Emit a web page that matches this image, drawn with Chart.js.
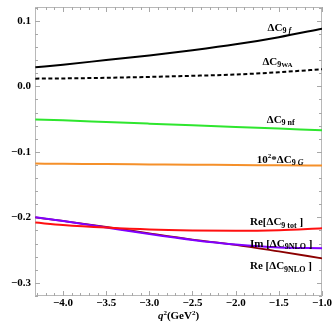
<!DOCTYPE html>
<html><head><meta charset="utf-8">
<script src="https://cdn.jsdelivr.net/npm/chart.js@4"></script>
<style>html,body{margin:0;padding:0;background:#fff;}#wrap{width:334px;height:334px;}</style>
</head><body><div id="wrap"><canvas id="c" width="334" height="334"></canvas></div>
<script>
// q^2 sample points (GeV^2)
const q2 = [-4.32, -4.0, -3.5, -3.0, -2.5, -2.0, -1.5, -1.0];
// series values
const dC9f     = [0.029, 0.033, 0.040, 0.047, 0.055, 0.064, 0.075, 0.088];
const dC9WA    = [0.0117, 0.012, 0.013, 0.0143, 0.016, 0.018, 0.0215, 0.026];
const dC9nf    = [-0.0505, -0.052, -0.0545, -0.057, -0.0595, -0.062, -0.0645, -0.067];
const dC9G100  = [-0.118, -0.1183, -0.1187, -0.1192, -0.1197, -0.1201, -0.1206, -0.121];
const reTot    = [-0.208, -0.2115, -0.2155, -0.2185, -0.2200, -0.2205, -0.2195, -0.2165];
const imNLO    = [-0.200, -0.2055, -0.2155, -0.2255, -0.2345, -0.2415, -0.2460, -0.2470];
const reNLO    = [-0.200, -0.2055, -0.2145, -0.2245, -0.2340, -0.2420, -0.2520, -0.2625];
const seriesNames = ["ΔC9 f", "ΔC9WA", "ΔC9 nf", "10²*ΔC9 G", "Re[ΔC9 tot ]", "Im [ΔC9NLO ]", "Re [ΔC9NLO ]"];
// tick labels
const xTicks = [-4.0, -3.5, -3.0, -2.5, -2.0, -1.5, -1.0];
const xTickLabels = ["−4.0", "−3.5", "−3.0", "−2.5", "−2.0", "−1.5", "−1.0"];
const yTicks = [0.1, 0.0, -0.1, -0.2, -0.3];
const yTickLabels = ["0.1", "0.0", "−0.1", "−0.2", "−0.3"];
const xTitle = ["q", "2", "(GeV", "2", ")"];

const FONT = '"Liberation Serif", "Times New Roman", serif';

function ds(name, arr, color, extra) {
  return Object.assign({
    label: name,
    data: q2.map((x, i) => ({x: x, y: arr[i]})),
    borderColor: color,
    borderWidth: 2,
    pointRadius: 0,
    fill: false,
    cubicInterpolationMode: 'monotone'
  }, extra || {});
}

function drawRich(ctx, x, y, parts) {
  let cx = x;
  for (const p of parts) {
    const s = p.s || 11;
    ctx.font = (p.i ? 'italic ' : '') + 'bold ' + s + 'px ' + FONT;
    ctx.fillText(p.t, cx, y + (p.dy || 0));
    cx += ctx.measureText(p.t).width;
  }
  return cx - x;
}

function sub(t, italic) { return {t: t, s: 8, dy: 2.5, i: !!italic}; }
function sup(t) { return {t: t, s: 7, dy: -4.5}; }
function main(t, italic) { return {t: t, s: 11, i: !!italic}; }

const frameTicks = {
  id: 'frameTicks',
  beforeDatasetsDraw(chart) {
    const ctx = chart.ctx, a = chart.chartArea;
    const xs = chart.scales.x, ys = chart.scales.y;
    ctx.save();
    ctx.strokeStyle = '#b8b8b8';
    ctx.lineWidth = 1;
    ctx.strokeRect(a.left + 0.5, a.top + 0.5, a.right - a.left - 1, a.bottom - a.top - 1);
    ctx.strokeStyle = '#a8a8a8';
    ctx.beginPath();
    for (let k = -43; k <= -10; k++) {
      const v = k / 10;
      const px = Math.round(xs.getPixelForValue(v)) + 0.5;
      const len = (k % 5 === 0) ? 5 : 3;
      ctx.moveTo(px, a.bottom); ctx.lineTo(px, a.bottom - len);
      ctx.moveTo(px, a.top); ctx.lineTo(px, a.top + len);
    }
    for (let k = -16; k <= 6; k++) {
      const v = k / 50;
      const py = Math.round(ys.getPixelForValue(v)) + 0.5;
      const len = (k % 5 === 0) ? 5 : 3;
      ctx.moveTo(a.left, py); ctx.lineTo(a.left + len, py);
      ctx.moveTo(a.right, py); ctx.lineTo(a.right - len, py);
    }
    ctx.stroke();
    ctx.restore();
  },
  afterDatasetsDraw(chart) {
    const ctx = chart.ctx, a = chart.chartArea;
    const xs = chart.scales.x, ys = chart.scales.y;
    ctx.save();
    ctx.fillStyle = '#000';
    ctx.textBaseline = 'alphabetic';
    const labels = [
      {x: -1.63, y: 0.0844, parts: [main('ΔC'), sub('9 '), sub('f', true)]},
      {x: -1.69, y: 0.0325, parts: [main('ΔC'), sub('9'), {t: 'WA', s: 7, dy: 2.5}]},
      {x: -1.64, y: -0.056, parts: [main('ΔC'), sub('9 nf')]},
      {x: -1.755, y: -0.117, parts: [main('10'), sup('2'), main('*ΔC'), sub('9 '), sub('G', true)]},
      {x: -1.834, y: -0.2117, parts: [main('Re[ΔC'), sub('9 tot'), main(' ]')]},
      {x: -1.834, y: -0.2452, parts: [main('Im [ΔC'), sub('9NLO'), main(' ]')]},
      {x: -1.834, y: -0.2788, parts: [main('Re [ΔC'), sub('9NLO'), main(' ]')]}
    ];
    for (const L of labels) {
      drawRich(ctx, xs.getPixelForValue(L.x), ys.getPixelForValue(L.y), L.parts);
    }
    // x axis title
    const tparts = [main(xTitle[0], true), sup(xTitle[1]), main(xTitle[2]), sup(xTitle[3]), main(xTitle[4])];
    let w = 0;
    for (const p of tparts) { ctx.font = (p.i ? 'italic ' : '') + 'bold ' + (p.s || 11) + 'px ' + FONT; w += ctx.measureText(p.t).width; }
    const cx = (a.left + a.right) / 2;
    drawRich(ctx, cx - w / 2, a.bottom + 23, tparts);
    ctx.restore();
  }
};

const tickFont = {family: FONT, weight: 'bold', size: 11};

new Chart(document.getElementById('c'), {
  type: 'line',
  data: {
    datasets: [
      ds(seriesNames[0], dC9f, '#000000'),
      ds(seriesNames[1], dC9WA, '#000000', {borderDash: [4, 2.5]}),
      ds(seriesNames[2], dC9nf, '#2ee62e'),
      ds(seriesNames[3], dC9G100, '#f5902a'),
      ds(seriesNames[4], reTot, '#ff1010'),
      ds(seriesNames[5], imNLO, '#8000ff'),
      ds(seriesNames[6], reNLO, '#8b0000', {borderWidth: 1.8})
    ]
  },
  options: {
    responsive: false,
    animation: false,
    devicePixelRatio: 1,
    layout: {padding: {left: 0, top: 7, right: 12, bottom: 0}},
    plugins: {legend: {display: false}, tooltip: {enabled: false}},
    scales: {
      x: {
        type: 'linear', min: -4.324, max: -1.0,
        afterBuildTicks: s => { s.ticks = xTicks.map(v => ({value: v})); },
        ticks: {callback: (v, i) => xTickLabels[i], font: tickFont, color: '#000', padding: 1, maxRotation: 0, autoSkip: false},
        grid: {display: false, drawTicks: false},
        border: {display: false},
        afterFit: s => { s.height = 38; s.paddingLeft = 0; s.paddingRight = 0; }
      },
      y: {
        type: 'linear', min: -0.32, max: 0.121,
        afterBuildTicks: s => { s.ticks = yTicks.map(v => ({value: v})); },
        ticks: {callback: (v, i) => yTickLabels[i], font: tickFont, color: '#000', padding: 4, autoSkip: false},
        grid: {display: false, drawTicks: false},
        border: {display: false},
        afterFit: s => { s.width = 35; s.paddingTop = 0; s.paddingBottom = 0; }
      }
    }
  },
  plugins: [frameTicks]
});
</script>
</body></html>
